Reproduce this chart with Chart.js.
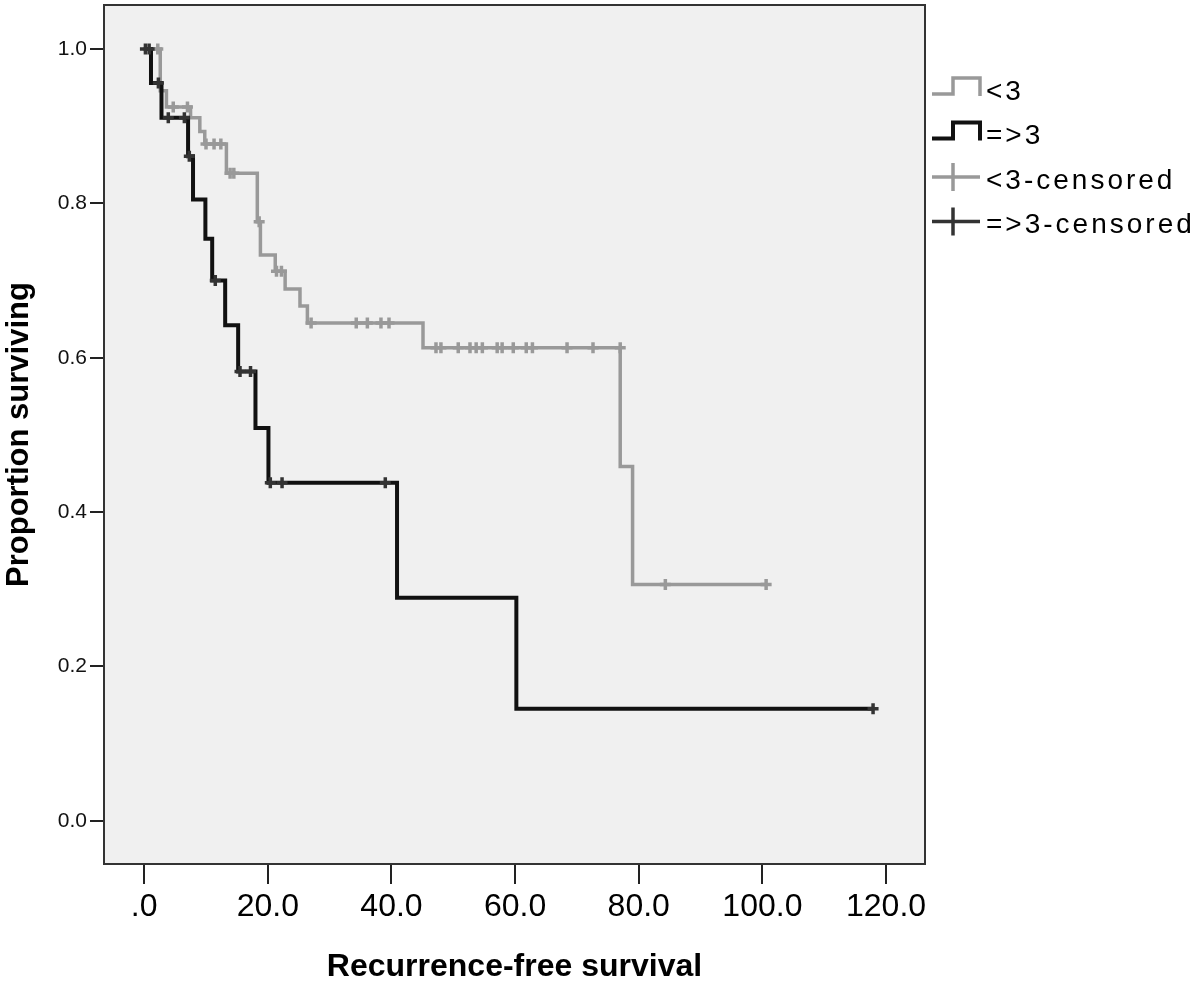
<!DOCTYPE html>
<html>
<head>
<meta charset="utf-8">
<script src="https://cdn.jsdelivr.net/npm/chart.js@4.4.1/dist/chart.umd.min.js"></script>
<style>
  html, body { margin: 0; padding: 0; background: #fff; }
  #wrap { width: 1200px; height: 982px; }
</style>
</head>
<body>
<div id="wrap"><canvas id="chart" width="1200" height="982"></canvas></div>
<script>
const xTicks = [0, 20, 40, 60, 80, 100, 120];
const xTickLabels = [".0", "20.0", "40.0", "60.0", "80.0", "100.0", "120.0"];
const yTicks = [0, 0.2, 0.4, 0.6, 0.8, 1.0];
const yTickLabels = ["0.0", "0.2", "0.4", "0.6", "0.8", "1.0"];

const seriesNames = ["<3", "=>3", "<3-censored", "=>3-censored"];

// <3 group: time of each step and survival after it
const lowTimes = [0, 2.6, 3.6, 7.5, 9.0, 9.8, 13.3, 18.3, 18.8, 21.2, 22.8, 25.2, 26.4, 45.1, 77.0, 79.0, 100.6];
const lowSurv = [1, 0.946, 0.925, 0.911, 0.893, 0.877, 0.839, 0.776, 0.733, 0.712, 0.689, 0.667, 0.645, 0.613, 0.459, 0.306, 0.306];
const lowCensTimes = [2.2, 4.7, 7.0, 10.0, 11.3, 12.4, 13.9, 14.5, 18.6, 21.4, 22.2,
  27.0, 34.3, 36.1, 38.3, 39.6,
  47.2, 48.0, 50.8, 52.7, 53.7, 54.7, 57.1, 57.9, 59.7, 61.8, 62.8, 68.4, 72.6, 77.0,
  84.3, 100.6];
const lowCensSurv = [1, 0.925, 0.925, 0.877, 0.877, 0.877, 0.839, 0.839, 0.776, 0.712, 0.712,
  0.645, 0.645, 0.645, 0.645, 0.645,
  0.613, 0.613, 0.613, 0.613, 0.613, 0.613, 0.613, 0.613, 0.613, 0.613, 0.613, 0.613, 0.613, 0.613,
  0.306, 0.306];

// =>3 group
const highTimes = [0, 1.1, 2.8, 7.1, 7.9, 9.9, 11.0, 13.1, 15.2, 18.0, 20.1, 40.9, 60.2, 117.9];
const highSurv = [1, 0.956, 0.911, 0.861, 0.805, 0.754, 0.700, 0.642, 0.582, 0.509, 0.438, 0.289, 0.145, 0.145];
const highCensTimes = [0.2, 0.8, 2.3, 3.9, 6.5, 7.3, 11.5, 15.5, 17.2, 20.4, 22.3, 39.0, 117.9];
const highCensSurv = [1, 1, 0.956, 0.911, 0.911, 0.861, 0.700, 0.582, 0.582, 0.438, 0.438, 0.438, 0.145];

const FONT = "'Liberation Sans', Arial, sans-serif";
const GRAY = "#999999";
const BLACK = "#111111";
const DARK = "#333333";

function toPoints(xs, ys) {
  return xs.map((x, i) => ({ x, y: ys[i] }));
}

// background, frame and the legend on the right
const framePlugin = {
  id: "frame",
  beforeDraw(chart) {
    const { ctx, chartArea: a } = chart;
    ctx.save();
    ctx.fillStyle = "#fff";
    ctx.fillRect(0, 0, chart.width, chart.height);
    ctx.fillStyle = "#f0f0f0";
    ctx.fillRect(a.left, a.top, a.right - a.left, a.bottom - a.top);
    ctx.restore();
  },
  afterDraw(chart) {
    const { ctx, chartArea: a } = chart;
    ctx.save();
    ctx.strokeStyle = "#333";
    ctx.lineWidth = 2;
    ctx.strokeRect(a.left, a.top, a.right - a.left, a.bottom - a.top);

    const colors = [GRAY, BLACK, GRAY, DARK];
    const x0 = a.right + 7;
    ctx.font = "28px " + FONT;
    ctx.textBaseline = "middle";
    ctx.fillStyle = "#000";
    if ("letterSpacing" in ctx) ctx.letterSpacing = "3px";
    seriesNames.forEach((name, i) => {
      const y = 92 + i * 44.5;
      ctx.strokeStyle = colors[i];
      ctx.lineWidth = i === 1 ? 4 : 3.5;
      ctx.beginPath();
      if (i < 2) {
        ctx.moveTo(x0, y + 2);
        ctx.lineTo(x0 + 21, y + 2);
        ctx.lineTo(x0 + 21, y - 14);
        ctx.lineTo(x0 + 48, y - 14);
        ctx.lineTo(x0 + 48, y + 4);
      } else {
        ctx.moveTo(x0, y - 4);
        ctx.lineTo(x0 + 48, y - 4);
        ctx.moveTo(x0 + 21, y - 18);
        ctx.lineTo(x0 + 21, y + 10);
      }
      ctx.stroke();
      ctx.fillText(name, x0 + 54, y);
    });
    ctx.restore();
  },
};

const ctx = document.getElementById("chart").getContext("2d");

new Chart(ctx, {
  type: "scatter",
  data: {
    datasets: [
      {
        label: seriesNames[0],
        type: "line",
        data: toPoints(lowTimes, lowSurv),
        stepped: true,
        borderColor: GRAY,
        borderWidth: 3.5,
        pointRadius: 0,
        fill: false,
        order: 4,
      },
      {
        label: seriesNames[2],
        data: toPoints(lowCensTimes, lowCensSurv),
        pointStyle: "cross",
        pointRadius: 5.5,
        borderColor: GRAY,
        borderWidth: 3.5,
        showLine: false,
        order: 3,
      },
      {
        label: seriesNames[1],
        type: "line",
        data: toPoints(highTimes, highSurv),
        stepped: true,
        borderColor: BLACK,
        borderWidth: 4,
        pointRadius: 0,
        fill: false,
        order: 2,
      },
      {
        label: seriesNames[3],
        data: toPoints(highCensTimes, highCensSurv),
        pointStyle: "cross",
        pointRadius: 5.5,
        borderColor: DARK,
        borderWidth: 3.5,
        showLine: false,
        order: 1,
      },
    ],
  },
  options: {
    responsive: false,
    animation: false,
    layout: {
      autoPadding: false,
      padding: { left: 0, top: 5, right: 275, bottom: 0 },
    },
    plugins: {
      legend: { display: false },
      tooltip: { enabled: false },
    },
    scales: {
      x: {
        type: "linear",
        min: -6.5,
        max: 126.3,
        afterBuildTicks: (s) => {
          s.ticks = xTicks.map((v) => ({ value: v }));
        },
        afterFit: (s) => {
          s.height = 118;
          s.paddingLeft = 0;
          s.paddingRight = 0;
        },
        ticks: {
          callback: (v, i) => xTickLabels[i],
          font: { family: FONT, size: 32 },
          color: "#000",
          padding: 4,
          maxRotation: 0,
          autoSkip: false,
        },
        grid: {
          drawOnChartArea: false,
          drawTicks: true,
          tickLength: 20,
          tickColor: "#222",
          lineWidth: 2,
        },
        border: { display: true, color: "#222", width: 2 },
        title: {
          display: true,
          text: "Recurrence-free survival",
          font: { family: FONT, size: 32, weight: "bold", lineHeight: 0.9 },
          color: "#000",
          padding: 0,
        },
      },
      y: {
        type: "linear",
        min: -0.056,
        max: 1.057,
        afterBuildTicks: (s) => {
          s.ticks = yTicks.map((v) => ({ value: v }));
        },
        afterFit: (s) => {
          s.width = 104;
          s.paddingTop = 0;
          s.paddingBottom = 0;
        },
        ticks: {
          callback: (v, i) => yTickLabels[i],
          font: { family: FONT, size: 21 },
          color: "#111",
          padding: 3,
          autoSkip: false,
        },
        grid: {
          drawOnChartArea: false,
          drawTicks: true,
          tickLength: 14,
          tickColor: "#222",
          lineWidth: 2,
        },
        border: { display: true, color: "#222", width: 2 },
        title: {
          display: true,
          text: "Proportion surviving",
          font: { family: FONT, size: 31, weight: "bold" },
          color: "#000",
          padding: { top: 1, bottom: 0 },
        },
      },
    },
  },
  plugins: [framePlugin],
});
</script>
</body>
</html>
